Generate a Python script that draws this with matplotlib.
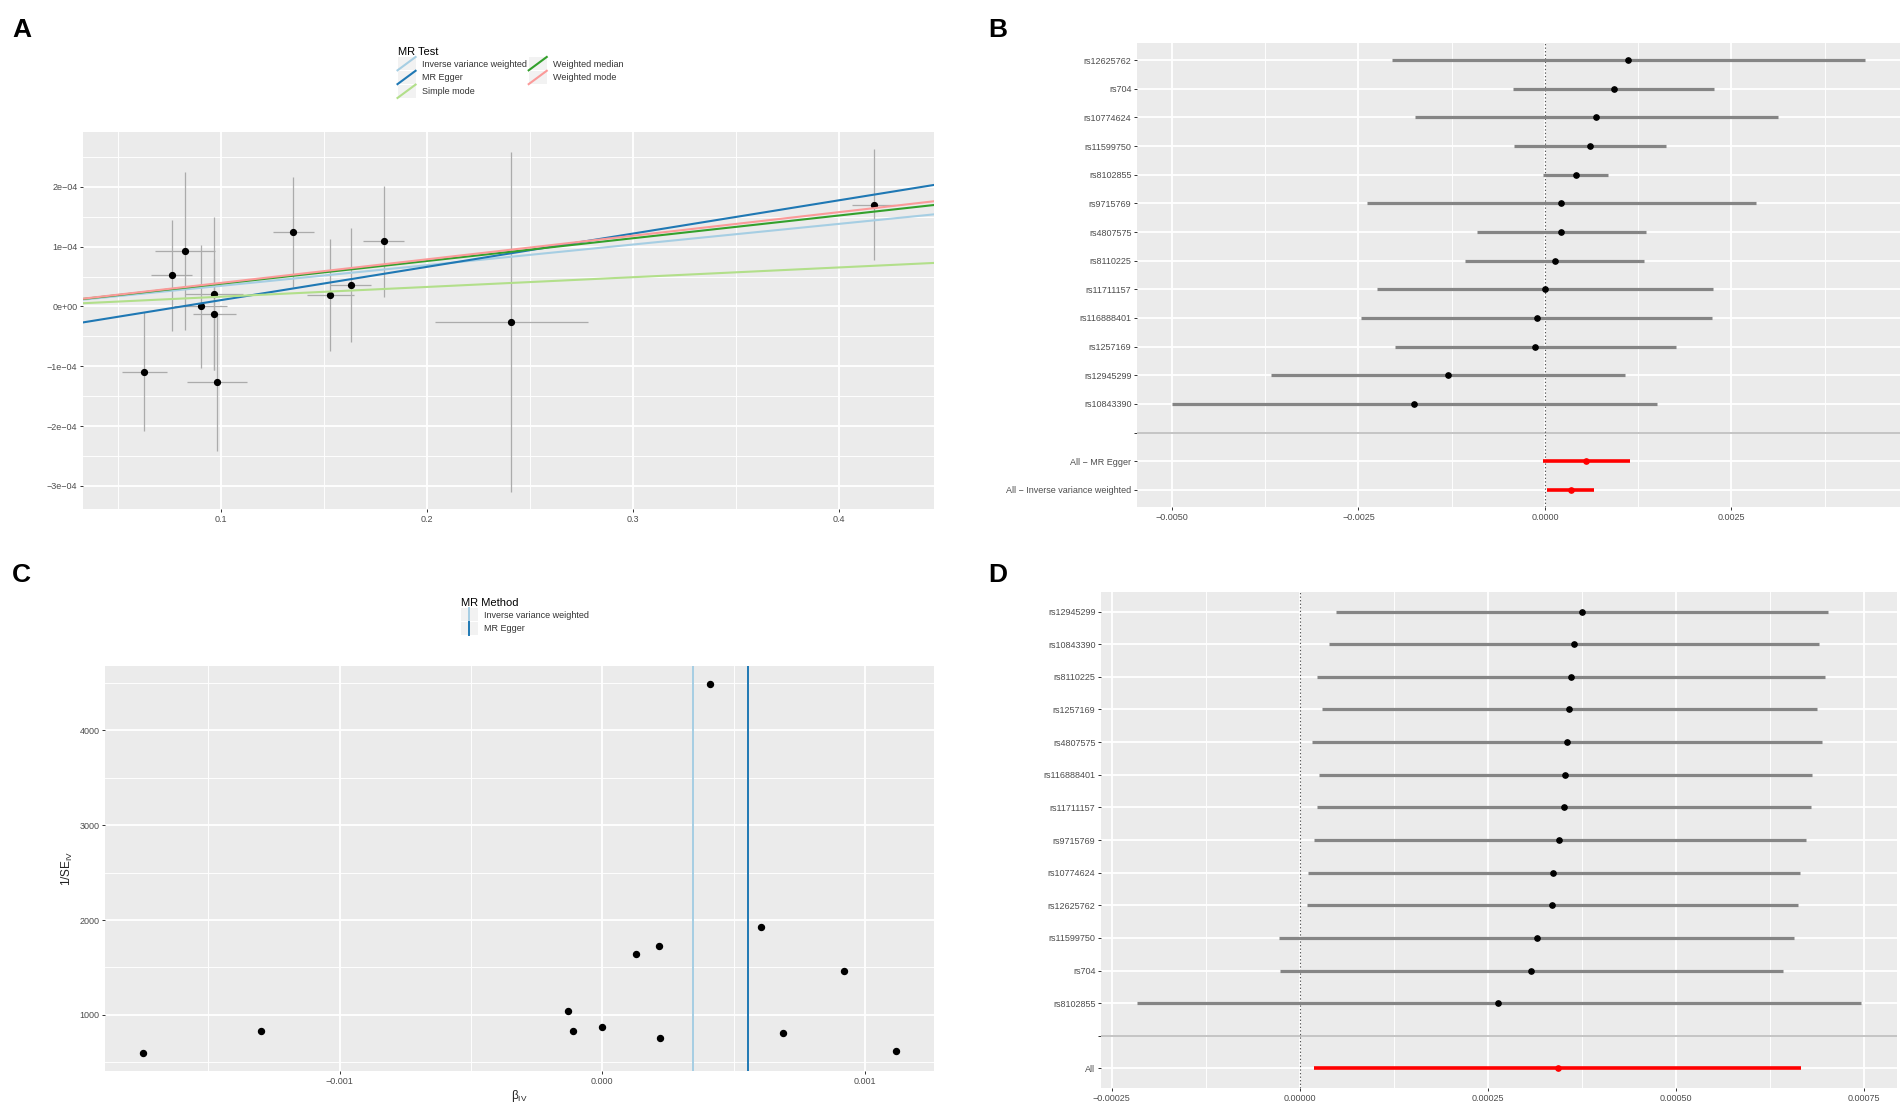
import numpy as np
import matplotlib
matplotlib.use('Agg')
import matplotlib.pyplot as plt
from matplotlib.legend_handler import HandlerBase
from matplotlib.patches import Rectangle
from matplotlib.lines import Line2D
from matplotlib.ticker import FixedLocator, MultipleLocator, NullLocator

plt.rcParams['font.family'] = ['Liberation Sans', 'DejaVu Sans']
plt.rcParams['mathtext.default'] = 'regular'

M = '\u2212'

# ---------------- Panel A: scatter (SNP-exposure vs SNP-outcome) ----------------
a_bx = [0.0627, 0.076, 0.0825, 0.090, 0.0967, 0.0967, 0.098, 0.135, 0.153, 0.163, 0.179, 0.241, 0.417]
a_bx_se = [0.011, 0.010, 0.0145, 0.0128, 0.014, 0.0105, 0.0145, 0.010, 0.0115, 0.010, 0.010, 0.037, 0.0105]
a_by = [-1.09e-4, 0.52e-4, 0.92e-4, 0.0, 0.21e-4, -0.13e-4, -1.27e-4, 1.24e-4, 0.19e-4, 0.36e-4, 1.09e-4, -0.26e-4, 1.70e-4]
a_by_se = [1.0e-4, 0.93e-4, 1.32e-4, 1.03e-4, 1.28e-4, 0.93e-4, 1.14e-4, 0.92e-4, 0.94e-4, 0.95e-4, 0.93e-4, 2.84e-4, 0.93e-4]
a_methods = ['Inverse variance weighted', 'MR Egger', 'Simple mode', 'Weighted median', 'Weighted mode']
a_slopes = [0.000345, 0.000556, 0.000163, 0.000380, 0.000394]
a_intercepts = [0.0, -0.45e-4, 0.0, 0.0, 0.0]
a_colors = ['#a6cee3', '#1f78b4', '#b2df8a', '#33a02c', '#fb9a99']
a_xticks = [0.1, 0.2, 0.3, 0.4]
a_xticklabels = ['0.1', '0.2', '0.3', '0.4']
a_yticks = [-3e-4, -2e-4, -1e-4, 0.0, 1e-4, 2e-4]
a_yticklabels = [M + '3e' + M + '04', M + '2e' + M + '04', M + '1e' + M + '04', '0e+00',
                 '1e' + M + '04', '2e' + M + '04']

# ---------------- Panel B: single SNP forest ----------------
b_snps = ['rs12625762', 'rs704', 'rs10774624', 'rs11599750', 'rs8102855', 'rs9715769',
          'rs4807575', 'rs8110225', 'rs11711157', 'rs116888401', 'rs1257169',
          'rs12945299', 'rs10843390']
b_beta = [0.00112, 0.00092, 0.00069, 0.000605, 0.00041, 0.00022, 0.000217, 0.00013,
          0.0, -0.00011, -0.00013, -0.0013, -0.00175]
b_se = [0.00162, 0.000685, 0.00124, 0.00052, 0.000223, 0.00133, 0.000578, 0.00061,
        0.00115, 0.0012, 0.00096, 0.00121, 0.00166]
b_all_labels = ['All ' + M + ' MR Egger', 'All ' + M + ' Inverse variance weighted']
b_all_beta = [0.000556, 0.000345]
b_all_se = [0.0003, 0.000163]
b_xticks = [-0.005, -0.0025, 0.0, 0.0025]
b_xticklabels = [M + '0.0050', M + '0.0025', '0.0000', '0.0025']

# ---------------- Panel C: funnel ----------------
c_methods = ['Inverse variance weighted', 'MR Egger']
c_method_beta = [0.000345, 0.000556]
c_colors = ['#a6cee3', '#1f78b4']
c_xticks = [-0.001, 0.0, 0.001]
c_xticklabels = [M + '0.001', '0.000', '0.001']
c_yticks = [1000, 2000, 3000, 4000]
c_yticklabels = ['1000', '2000', '3000', '4000']

# ---------------- Panel D: leave-one-out ----------------
d_snps = ['rs12945299', 'rs10843390', 'rs8110225', 'rs1257169', 'rs4807575', 'rs116888401',
          'rs11711157', 'rs9715769', 'rs10774624', 'rs12625762', 'rs11599750', 'rs704',
          'rs8102855']
d_beta = [0.000375, 0.000365, 0.000361, 0.000358, 0.000355, 0.000353, 0.000351, 0.000345,
          0.000337, 0.000336, 0.000315, 0.000308, 0.000264]
d_lo = [0.0000479, 0.0000389, 0.0000235, 0.0000292, 0.000017, 0.0000251, 0.0000227,
        0.0000187, 0.0000105, 0.0000097, -0.0000276, -0.000026, -0.000216]
d_hi = [0.000703, 0.000691, 0.000698, 0.000688, 0.000694, 0.000681, 0.00068, 0.000673,
        0.000665, 0.000662, 0.000657, 0.000642, 0.000746]
d_all_labels = ['All']
d_all_beta = [0.000343]
d_all_lo = [0.0000195]
d_all_hi = [0.000667]
d_xticks = [-0.00025, 0.0, 0.00025, 0.0005, 0.00075]
d_xticklabels = [M + '0.00025', '0.00000', '0.00025', '0.00050', '0.00075']

TICK_COL = '#4D4D4D'
BG = '#EBEBEB'


def gg(ax):
    ax.set_facecolor(BG)
    for s in ax.spines.values():
        s.set_visible(False)
    ax.set_axisbelow(True)
    ax.grid(which='major', color='white', lw=1.3)
    ax.grid(which='minor', color='white', lw=0.65)
    ax.tick_params(which='major', length=2.5, width=0.7, color='#333333',
                   labelsize=6.5, labelcolor=TICK_COL, pad=1.5)
    ax.tick_params(which='minor', length=0)


class DiagHandler(HandlerBase):
    def __init__(self, vertical=False):
        super().__init__()
        self.vertical = vertical

    def create_artists(self, legend, orig_handle, xdescent, ydescent, width, height,
                       fontsize, trans):
        x0, y0 = -xdescent, -ydescent
        bg = Rectangle((x0, y0), width, height, facecolor='#F2F2F2', edgecolor='none',
                       transform=trans)
        if self.vertical:
            ln = Line2D([x0 + width / 2, x0 + width / 2], [y0, y0 + height],
                        color=orig_handle.get_color(), lw=orig_handle.get_linewidth(),
                        transform=trans)
        else:
            ln = Line2D([x0, x0 + width], [y0, y0 + height],
                        color=orig_handle.get_color(), lw=orig_handle.get_linewidth(),
                        transform=trans)
        return [bg, ln]


W, H = 1902, 1106
fig = plt.figure(figsize=(W / 100, H / 100), dpi=100)


def px_axes(x0, y0, x1, y1):
    return fig.add_axes([x0 / W, 1 - y1 / H, (x1 - x0) / W, (y1 - y0) / H])


# ---------------- Panel A ----------------
axA = px_axes(83, 132, 934, 509)
gg(axA)
axA.errorbar(a_bx, a_by, xerr=a_bx_se, yerr=a_by_se, fmt='none', ecolor='#ababab',
             elinewidth=0.9, capsize=0, zorder=2)
axA.plot(a_bx, a_by, 'o', color='black', ms=4.2, zorder=3)
axA.margins(0.05)
axA.autoscale_view()
axA.set_xlim(axA.get_xlim())
axA.set_ylim(axA.get_ylim())
order = [0, 2, 4, 3, 1]
for i in order:
    axA.axline((0, a_intercepts[i]), slope=a_slopes[i], color=a_colors[i], lw=1.5, zorder=4 + i)
handlesA = [Line2D([], [], color=a_colors[i], lw=1.5) for i in range(len(a_methods))]
axA.xaxis.set_major_locator(FixedLocator(a_xticks))
axA.set_xticklabels(a_xticklabels)
axA.yaxis.set_major_locator(FixedLocator(a_yticks))
axA.set_yticklabels(a_yticklabels)
axA.xaxis.set_minor_locator(MultipleLocator(0.05))
axA.yaxis.set_minor_locator(MultipleLocator(0.5e-4))

legA = fig.legend(handlesA, a_methods, loc='upper left', bbox_to_anchor=(393 / W, 1 - 42 / H),
                  ncol=2, frameon=False, title='MR Test', fontsize=6.5, title_fontsize=8,
                  handler_map={Line2D: DiagHandler()}, handlelength=2.0, handleheight=1.9,
                  labelspacing=0.05, handletextpad=0.7, columnspacing=0.2, borderpad=0,
                  alignment='left')
for t in legA.get_texts():
    t.set_color('#333333')


# ---------------- forest helper ----------------
def forest(ax, labels, beta, lo, hi, all_labels, all_beta, all_lo, all_hi, ticks, ticklabels,
           minor):
    cats = list(labels) + [''] + list(all_labels)
    n = len(cats)
    y_snp = [n - 1 - i for i in range(len(labels))]
    y_sep = n - 1 - len(labels)
    y_all = [n - 1 - (len(labels) + 1 + j) for j in range(len(all_labels))]
    gg(ax)
    ax.axhline(y_sep, color='#C4C4C4', lw=1.4, zorder=1.5)
    ax.axvline(0, color='#555555', lw=0.8, ls=(0, (1.2, 2)), zorder=1.6)
    ax.hlines(y_snp, lo, hi, color='#858585', lw=2.3, zorder=2)
    ax.plot(beta, y_snp, 'o', color='black', ms=3.8, zorder=3)
    ax.hlines(y_all, all_lo, all_hi, color='#ff0000', lw=2.6, zorder=2)
    ax.plot(all_beta, y_all, 'o', color='#ff0000', ms=3.8, zorder=3)
    ax.set_ylim(-0.6, n - 1 + 0.6)
    ax.margins(x=0.05)
    ax.yaxis.set_major_locator(FixedLocator([n - 1 - i for i in range(n)]))
    ax.set_yticklabels(cats)
    ax.yaxis.set_minor_locator(NullLocator())
    ax.xaxis.set_major_locator(FixedLocator(ticks))
    ax.set_xticklabels(ticklabels)
    ax.xaxis.set_minor_locator(MultipleLocator(minor))


axB = px_axes(1137, 43, 1900, 507)
b_lo = [b - 1.96 * s for b, s in zip(b_beta, b_se)]
b_hi = [b + 1.96 * s for b, s in zip(b_beta, b_se)]
b_all_lo = [b - 1.96 * s for b, s in zip(b_all_beta, b_all_se)]
b_all_hi = [b + 1.96 * s for b, s in zip(b_all_beta, b_all_se)]
forest(axB, b_snps, b_beta, b_lo, b_hi, b_all_labels, b_all_beta, b_all_lo, b_all_hi,
       b_xticks, b_xticklabels, 0.00125)

axD = px_axes(1101, 592, 1897, 1088)
forest(axD, d_snps, d_beta, d_lo, d_hi, d_all_labels, d_all_beta, d_all_lo, d_all_hi,
       d_xticks, d_xticklabels, 0.000125)

# ---------------- Panel C ----------------
axC = px_axes(105, 666, 934, 1071)
gg(axC)
c_inv_se = [1.0 / s for s in b_se]
axC.plot(b_beta, c_inv_se, 'o', color='black', ms=4.3, zorder=3, ls='none')
handlesC = []
for i in range(len(c_methods)):
    axC.axvline(c_method_beta[i], color=c_colors[i], lw=1.4, zorder=2)
    handlesC.append(Line2D([], [], color=c_colors[i], lw=1.4))
axC.margins(0.05)
axC.xaxis.set_major_locator(FixedLocator(c_xticks))
axC.set_xticklabels(c_xticklabels)
axC.yaxis.set_major_locator(FixedLocator(c_yticks))
axC.set_yticklabels(c_yticklabels)
axC.xaxis.set_minor_locator(MultipleLocator(0.0005))
axC.yaxis.set_minor_locator(MultipleLocator(500))
axC.set_xlabel('\u03b2$_{IV}$', fontsize=8.5, labelpad=2, color='#222222')
axC.set_ylabel('1/SE$_{IV}$', fontsize=8.5, labelpad=3, color='#222222')

legC = fig.legend(handlesC, c_methods, loc='upper left', bbox_to_anchor=(456 / W, 1 - 593 / H),
                  ncol=1, frameon=False, title='MR Method', fontsize=6.5, title_fontsize=8,
                  handler_map={Line2D: DiagHandler(vertical=True)}, handlelength=1.9,
                  handleheight=1.9, labelspacing=0.05, handletextpad=0.7, borderpad=0,
                  alignment='left')
for t in legC.get_texts():
    t.set_color('#333333')

# ---------------- panel letters ----------------
for lab, x, y in [('A', 12, 18), ('B', 988, 18), ('C', 12, 563), ('D', 988, 563)]:
    fig.text(x / W, 1 - y / H, lab, fontsize=19, fontweight='bold', ha='left', va='top',
             color='black')

fig.savefig('out.png', dpi=100)
